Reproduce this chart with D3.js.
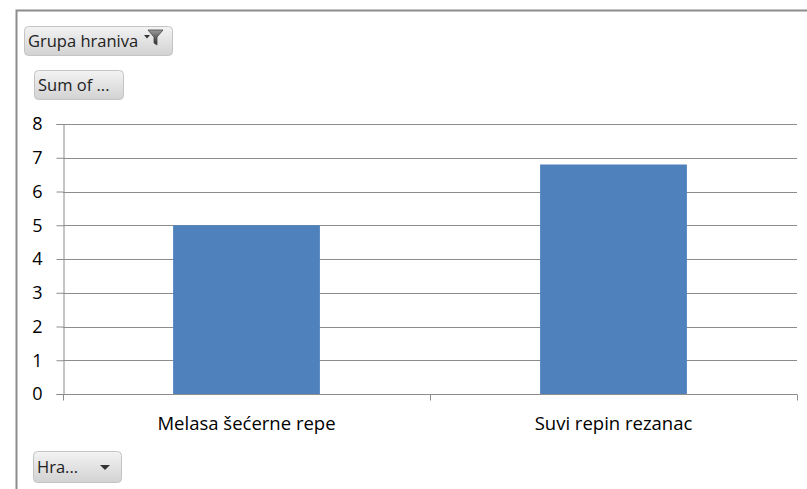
<!DOCTYPE html>
<html><head><meta charset="utf-8">
<script src="https://cdn.jsdelivr.net/npm/d3@7"></script>
<style>body{margin:0;background:#fff}svg{display:block;font-family:"Open Sans",Lato,sans-serif}</style>
</head><body>
<svg id="c" width="807" height="489"></svg>
<script>
const categories = ["Melasa šećerne repe", "Suvi repin rezanac"];
const values = [5.0, 6.8];
const yTicks = [0,1,2,3,4,5,6,7,8];

const svg = d3.select("#c");
const W = 807, H = 489;
const x0 = 63, x1 = 797, yTop = 124, yBot = 394;

// outer frame
svg.append("path").attr("d", `M16.5,${H} V10.5 H${W}`).attr("fill","none").attr("stroke","#8c8c8c").attr("stroke-width",2);

const defs = svg.append("defs");
const g = defs.append("linearGradient").attr("id","btn").attr("x1",0).attr("y1",0).attr("x2",0).attr("y2",1);
g.append("stop").attr("offset","0").attr("stop-color","#f3f3f3");
g.append("stop").attr("offset","1").attr("stop-color","#d2d2d2");
const fg = defs.append("linearGradient").attr("id","fun").attr("x1",0).attr("y1",0).attr("x2",0).attr("y2",1);
fg.append("stop").attr("offset","0").attr("stop-color","#9a9a9a");
fg.append("stop").attr("offset","1").attr("stop-color","#2a2a2a");

function button(x,y,w,h,label,fs){
  svg.append("rect").attr("x",x+0.5).attr("y",y+0.5).attr("width",w).attr("height",h).attr("rx",4)
    .attr("fill","url(#btn)").attr("stroke","#c4c4c4");
  svg.append("text").attr("x",x+4).attr("y",y+h/2+6).attr("font-size",fs).attr("fill","#222").text(label);
}
button(24,26,148,29,"Grupa hraniva",16.5);
// filter icon
svg.append("path").attr("d","M144,35 h6 l-3,3.5 z").attr("fill","#333");
svg.append("path").attr("d","M148,30 h15 l-6,7 v8 l-3,-2 v-6 z").attr("fill","url(#fun)").attr("stroke","#444").attr("stroke-width",0.8);
button(34,70,89,29,"Sum of ...",16.5);
button(33,451,88,31,"Hra...",16.5);
svg.append("path").attr("d","M100,465 h10 l-5,5 z").attr("fill","#333");

const y = d3.scaleLinear().domain([0,8]).range([yBot,yTop]);
const x = d3.scaleBand().domain(categories).range([x0,x1]).padding(0);

// gridlines
svg.append("g").selectAll("line").data(yTicks.filter(d=>d>0)).join("line")
  .attr("x1",x0).attr("x2",x1).attr("y1",d=>Math.round(y(d))+0.5).attr("y2",d=>Math.round(y(d))+0.5)
  .attr("stroke","#8c8c8c").attr("stroke-width",1);

// bars
const bw = x.bandwidth()*0.4;
svg.append("g").selectAll("rect").data(values).join("rect")
  .attr("x",(d,i)=>x(categories[i])+x.bandwidth()/2-bw/2)
  .attr("width",bw)
  .attr("y",d=>y(d)).attr("height",d=>yBot-y(d))
  .attr("fill","#4f81bd");

// y axis
const ya = svg.append("g").attr("transform",`translate(${x0+0.5},0)`)
  .call(d3.axisLeft(y).tickValues(yTicks).tickSize(7).tickPadding(14).tickFormat(d3.format("d")));
ya.select(".domain").attr("stroke","#8c8c8c");
ya.selectAll(".tick line").attr("stroke","#8c8c8c");
ya.selectAll(".tick text").attr("font-size",18).attr("font-family","Open Sans").attr("fill","#000");

// x axis
const xa = svg.append("g").attr("transform",`translate(0,${yBot+0.5})`);
xa.append("line").attr("x1",x0).attr("x2",x1).attr("stroke","#8c8c8c");
const bounds = [x0, ...categories.slice(1).map(c=>x(c)), x1];
xa.selectAll("line.t").data(bounds).join("line").attr("class","t")
  .attr("x1",d=>Math.round(d)+0.5).attr("x2",d=>Math.round(d)+0.5).attr("y1",0).attr("y2",6).attr("stroke","#8c8c8c");
xa.selectAll("text").data(categories).join("text")
  .attr("x",d=>x(d)+x.bandwidth()/2).attr("y",35).attr("text-anchor","middle")
  .attr("font-size",18.5).attr("fill","#000").text(d=>d);
</script>
</body></html>
